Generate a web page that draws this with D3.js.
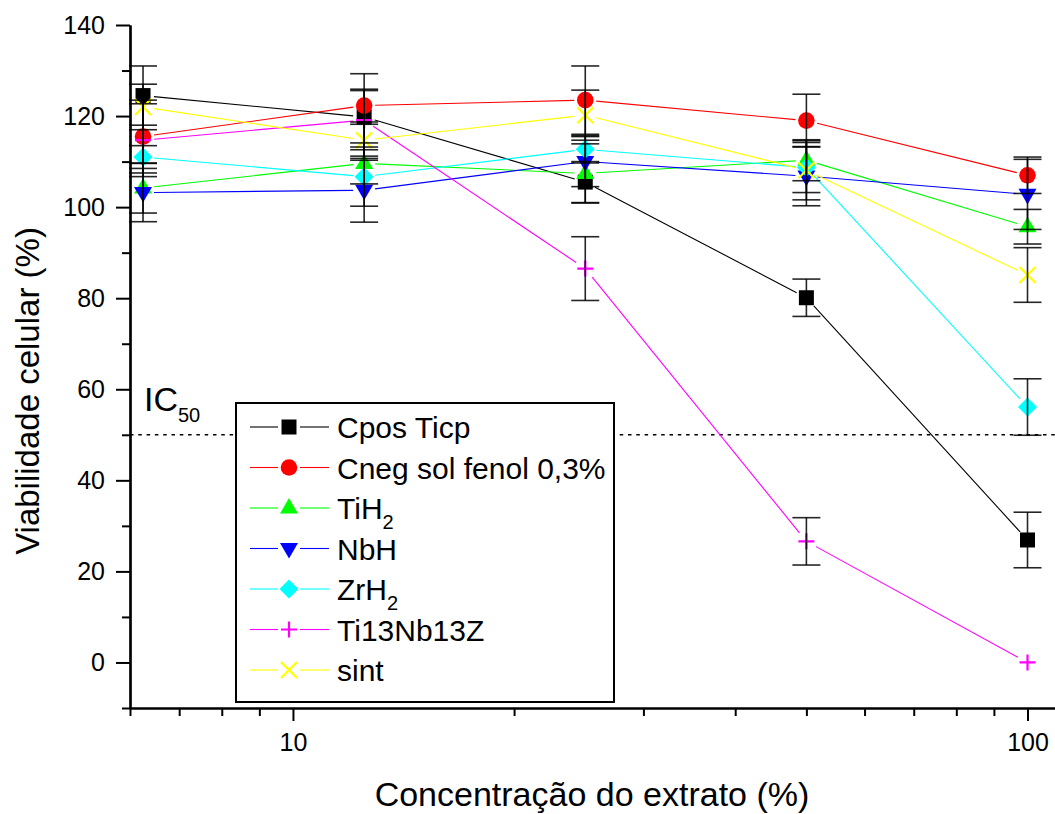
<!DOCTYPE html>
<html>
<head>
<meta charset="utf-8">
<script src="https://cdn.jsdelivr.net/npm/d3@7"></script>
<style>
  body { margin: 0; background: #fff; }
  text { font-family: "Liberation Sans", Arial, sans-serif; fill: #000; }
</style>
</head>
<body>
<div id="chart"></div>
<script>
// concentrations (%), one per column
const concentrations = [6.25, 12.5, 25, 50, 100];

const seriesNames = ["Cpos Ticp", "Cneg sol fenol 0,3%", "TiH2", "NbH", "ZrH2", "Ti13Nb13Z", "sint"];

const cposValues = [124.5, 119.8, 105.5, 80.1, 26.9];
const cposErrors = [6.5, 9.5, 4.5, 4.1, 6.1];
const cnegValues = [115.5, 122.3, 123.5, 119.0, 107.0];
const cnegErrors = [8.0, 3.6, 7.5, 5.8, 4.0];
const tih2Values = [104.2, 109.6, 107.4, 110.3, 95.7];
const tih2Errors = [5.5, 4.5, 6.5, 4.5, 3.8];
const nbhValues = [103.2, 103.7, 110.0, 106.8, 102.8];
const nbhErrors = [6.4, 7.0, 5.5, 6.5, 7.7];
const zrh2Values = [111.0, 106.7, 112.7, 108.7, 56.1];
const zrh2Errors = [2.5, 6.5, 3.0, 5.5, 6.2];
const ti13Values = [114.7, 119.1, 86.5, 26.6, 0];
const ti13Errors = [8.0, 6.5, 7.0, 5.2, 0];
const sintValues = [122.0, 114.7, 120.2, 108.1, 85.1];
const sintErrors = [5.0, 3.5, 5.5, 6.5, 6.0];

const yMajorTicks = [0, 20, 40, 60, 80, 100, 120, 140];
const yMinorTicks = [-10, 10, 30, 50, 70, 90, 110, 130];
const xMajorTicks = [10, 100];
const xMinorTicks = [6, 7, 8, 9, 20, 30, 40, 50, 60, 70, 80, 90];
const ic50 = 50;

const colors = ["#000000", "#ff0000", "#00ff00", "#0000ff", "#00ffff", "#ff00ff", "#ffff00"];
const shapes = ["square", "circle", "up", "down", "diamond", "plus", "cross"];

const series = seriesNames.map((name, i) => ({
  name: name,
  values: [cposValues, cnegValues, tih2Values, nbhValues, zrh2Values, ti13Values, sintValues][i],
  errors: [cposErrors, cnegErrors, tih2Errors, nbhErrors, zrh2Errors, ti13Errors, sintErrors][i],
  color: colors[i],
  shape: shapes[i]
}));

const W = 1055, H = 814;
const svg = d3.select("#chart").append("svg")
    .attr("width", W)
    .attr("height", H)
    .style("background", "#fff");

const x = d3.scaleLog().domain([6, 109]).range([130, 1055]);
const y = d3.scaleLinear().domain([-10, 140]).range([708, 25]);

// marker paths
function markerPath(shape) {
  switch (shape) {
    case "square": return "M-7.5,-7.5H7.5V7.5H-7.5Z";
    case "circle": return d3.symbol(d3.symbolCircle, Math.PI * 8.3 * 8.3)();
    case "up": return "M0,-10L9,5.6L-9,5.6Z";
    case "down": return "M0,10L9,-5.6L-9,-5.6Z";
    case "diamond": return "M0,-9.5L9.5,0L0,9.5L-9.5,0Z";
    case "plus": return "M-8,0H8M0,-8V8";
    case "cross": return "M-8,-8L8,8M-8,8L8,-8";
  }
}
function drawMarker(g, shape, color, cx, cy) {
  const stroked = shape === "plus" || shape === "cross";
  g.append("path")
    .attr("d", markerPath(shape))
    .attr("transform", "translate(" + cx + "," + cy + ")")
    .attr("fill", stroked ? "none" : color)
    .attr("stroke", stroked ? color : "none")
    .attr("stroke-width", stroked ? 2.2 : 0);
}

// IC50 dotted line
svg.append("line")
  .attr("x1", 130).attr("x2", W)
  .attr("y1", y(ic50)).attr("y2", y(ic50))
  .attr("stroke", "#000")
  .attr("stroke-width", 1.6)
  .attr("stroke-dasharray", "3.5,4.8");

const ic = svg.append("text")
  .attr("x", 144).attr("y", 411)
  .style("font-size", "34px");
ic.append("tspan").text("IC");
ic.append("tspan").attr("dy", 11).style("font-size", "20px").text("50");

// connecting lines, with small gaps around markers
const gap = 11;
series.forEach(s => {
  const pts = concentrations.map((c, i) => [x(c), y(s.values[i])]);
  for (let i = 0; i < pts.length - 1; i++) {
    const [x1, y1] = pts[i], [x2, y2] = pts[i + 1];
    const len = Math.hypot(x2 - x1, y2 - y1);
    const ux = (x2 - x1) / len, uy = (y2 - y1) / len;
    svg.append("line")
      .attr("x1", x1 + ux * gap).attr("y1", y1 + uy * gap)
      .attr("x2", x2 - ux * gap).attr("y2", y2 - uy * gap)
      .attr("stroke", s.color)
      .attr("stroke-width", 1.1);
  }
});

// markers
const markers = svg.append("g");
series.forEach(s => {
  concentrations.forEach((c, i) => drawMarker(markers, s.shape, s.color, x(c), y(s.values[i])));
});

// error bars
const errG = svg.append("g").attr("stroke", "#000").attr("stroke-width", 1.6).attr("stroke-opacity", 0.85);
series.forEach(s => {
  concentrations.forEach((c, i) => {
    const e = s.errors[i];
    if (!e) return;
    const cx = x(c), top = y(s.values[i] + e), bot = y(s.values[i] - e);
    errG.append("line").attr("x1", cx).attr("x2", cx).attr("y1", top).attr("y2", bot);
    errG.append("line").attr("x1", cx - 14).attr("x2", cx + 14).attr("y1", top).attr("y2", top);
    errG.append("line").attr("x1", cx - 14).attr("x2", cx + 14).attr("y1", bot).attr("y2", bot);
  });
});

// axes
function styleAxis(g) {
  g.selectAll("path, line").attr("stroke", "#000").attr("stroke-width", 2);
  g.select(".domain").attr("stroke-width", 2.2);
}
svg.append("g")
  .attr("transform", "translate(130,0)")
  .call(d3.axisLeft(y).tickValues(yMinorTicks).tickSize(8).tickSizeOuter(0).tickFormat(""))
  .call(styleAxis);
svg.append("g")
  .attr("transform", "translate(130,0)")
  .call(d3.axisLeft(y).tickValues(yMajorTicks).tickSize(14).tickSizeOuter(0).tickPadding(11))
  .call(styleAxis)
  .call(g => g.selectAll("text").style("font-size", "25px").style("font-family", "Liberation Sans, Arial, sans-serif"));

svg.append("g")
  .attr("transform", "translate(0,708)")
  .call(d3.axisBottom(x).tickValues(xMinorTicks).tickSize(8).tickSizeOuter(0).tickFormat(""))
  .call(styleAxis);
svg.append("g")
  .attr("transform", "translate(0,708)")
  .call(d3.axisBottom(x).tickValues(xMajorTicks).tickSize(13).tickSizeOuter(0).tickPadding(12).tickFormat(d3.format("d")))
  .call(styleAxis)
  .call(g => g.selectAll("text").style("font-size", "25px").style("font-family", "Liberation Sans, Arial, sans-serif"));

// axis titles
svg.append("text")
  .attr("transform", "translate(39," + 391 + ") rotate(-90)")
  .attr("text-anchor", "middle")
  .style("font-size", "33px")
  .text("Viabilidade celular (%)");

svg.append("text")
  .attr("x", 592).attr("y", 806)
  .attr("text-anchor", "middle")
  .style("font-size", "34px")
  .text("Concentração do extrato (%)");

// legend
const legend = svg.append("g");
legend.append("rect")
  .attr("x", 236).attr("y", 403)
  .attr("width", 378).attr("height", 299)
  .attr("fill", "#fff")
  .attr("stroke", "#000")
  .attr("stroke-width", 2);

series.forEach((s, i) => {
  const cy = 427 + i * 40.5;
  legend.append("line").attr("x1", 250).attr("x2", 278).attr("y1", cy).attr("y2", cy)
    .attr("stroke", s.color).attr("stroke-width", 1.1);
  legend.append("line").attr("x1", 300).attr("x2", 329).attr("y1", cy).attr("y2", cy)
    .attr("stroke", s.color).attr("stroke-width", 1.1);
  drawMarker(legend, s.shape, s.color, 289, cy);

  const t = legend.append("text")
    .attr("x", 337).attr("y", cy + 11)
    .style("font-size", "30px");
  const m = s.name.match(/^(.*H)2$/);
  if (m) {
    t.append("tspan").text(m[1]);
    t.append("tspan").attr("dy", 10).style("font-size", "20px").text("2");
  } else {
    t.text(s.name);
  }
});
</script>
</body>
</html>
